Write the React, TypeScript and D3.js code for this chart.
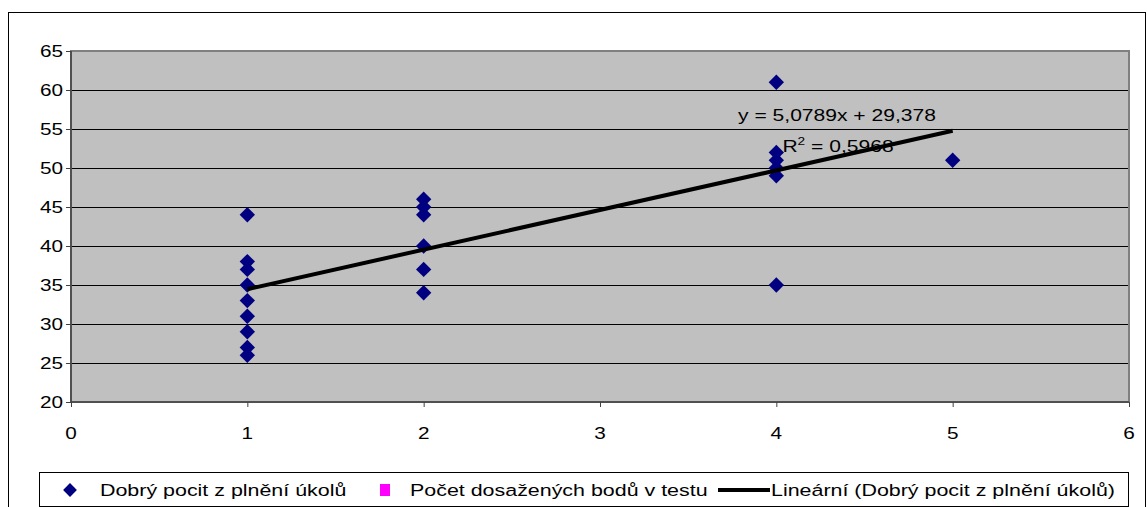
import React from "react";
import * as d3 from "d3";

const xValues = [1, 1, 1, 1, 1, 1, 1, 1, 1, 2, 2, 2, 2, 2, 2, 4, 4, 4, 4, 4, 4, 5];
const yValues = [44, 38, 37, 35, 33, 31, 29, 27, 26, 46, 45, 44, 40, 37, 34, 61, 52, 51, 50, 49, 35, 51];
const trendSlope = 5.0789;
const trendIntercept = 29.378;
const trendLabel = "y = 5,0789x + 29,378";
const r2Label = "0,5968";
const xTicks = [0, 1, 2, 3, 4, 5, 6];
const yTicks = [20, 25, 30, 35, 40, 45, 50, 55, 60, 65];
const seriesNames = [
  "Dobrý pocit z plnění úkolů",
  "Počet dosažených bodů v testu",
  "Lineární (Dobrý pocit z plnění úkolů)",
];

const W = 1147;
const H = 507;
const FONT = "'Liberation Sans', Arial, sans-serif";

function SText({ x, y, anchor = "start", size = 17, sx = 1.22, children }: any) {
  return (
    <text
      transform={`translate(${x},${y}) scale(${sx},1)`}
      textAnchor={anchor}
      fontFamily={FONT}
      fontSize={size}
      fill="#000"
    >
      {children}
    </text>
  );
}

export default function App() {
  const x = d3.scaleLinear().domain([0, 6]).range([71, 1129]);
  const y = d3.scaleLinear().domain([20, 65]).range([402, 51]);
  const diamond = d3.symbol().type(d3.symbolSquare).size(118)();
  const legendDiamond = d3.symbol().type(d3.symbolSquare).size(95)();
  const x0 = d3.min(xValues) as number;
  const x1 = d3.max(xValues) as number;
  const line = d3
    .line<number>()
    .x((d) => x(d))
    .y((d) => y(trendSlope * d + trendIntercept));

  return (
    <svg
      width={W}
      height={H}
      style={{ position: "absolute", left: 0, top: 0, background: "#fff" }}
    >
      <rect x={8.5} y={12.5} width={1137} height={520} fill="#fff" stroke="#000" strokeWidth={1} />
      {/* plot area */}
      <rect x={x(0)} y={y(65)} width={x(6) - x(0)} height={y(20) - y(65)} fill="#C0C0C0" />
      {yTicks.map((t) =>
        t === 20 || t === 65 ? null : (
          <line key={t} x1={x(0)} x2={x(6)} y1={y(t) + 0.5} y2={y(t) + 0.5} stroke="#000" strokeWidth={1} />
        )
      )}
      <rect x={x(0)} y={y(65)} width={x(6) - x(0)} height={y(20) - y(65)} fill="none" stroke="#808080" strokeWidth={2} />
      {/* y axis */}
      <line x1={x(0)} x2={x(0)} y1={y(65)} y2={y(20)} stroke="#404040" strokeWidth={1.5} />
      {yTicks.map((t) => (
        <g key={t}>
          <line x1={x(0) - 5} x2={x(0)} y1={y(t) + 0.5} y2={y(t) + 0.5} stroke="#404040" />
          <SText x={63} y={y(t) + 6} anchor="end">{t}</SText>
        </g>
      ))}
      {/* x axis */}
      <line x1={x(0)} x2={x(6)} y1={y(20)} y2={y(20)} stroke="#404040" strokeWidth={1.5} />
      {xTicks.map((t) => (
        <g key={t}>
          <line x1={x(t) + 0.5} x2={x(t) + 0.5} y1={y(20)} y2={y(20) + 5} stroke="#404040" />
          <SText x={x(t)} y={439} anchor="middle">{t}</SText>
        </g>
      ))}
      {/* points */}
      {xValues.map((xv, i) => (
        <path
          key={i}
          d={diamond}
          transform={`translate(${x(xv)},${y(yValues[i])}) rotate(45)`}
          fill="#000080"
        />
      ))}
      {/* trend */}
      <path d={line([x0, x1]) as string} fill="none" stroke="#000" strokeWidth={4} />
      <SText x={837} y={121} anchor="middle" sx={1.24}>{trendLabel}</SText>
      <text
        transform={`translate(838,152) scale(1.24,1)`}
        textAnchor="middle"
        fontFamily={FONT}
        fontSize={17}
        fill="#000"
      >
        R<tspan fontSize={11} dy={-7}>2</tspan>
        <tspan dy={7}>{" = " + r2Label}</tspan>
      </text>
      {/* legend */}
      <rect x={39.5} y={472.5} width={1089} height={34} fill="#fff" stroke="#000" strokeWidth={1} />
      <path d={legendDiamond} transform="translate(70,490) rotate(45)" fill="#000080" />
      <SText x={100} y={496} sx={1.26}>{seriesNames[0]}</SText>
      <rect x={380} y={484} width={10} height={12} fill="#FF00FF" />
      <SText x={410} y={496} sx={1.26}>{seriesNames[1]}</SText>
      <line x1={718} x2={770} y1={490} y2={490} stroke="#000" strokeWidth={4} />
      <SText x={771} y={496} sx={1.26}>{seriesNames[2]}</SText>
    </svg>
  );
}
